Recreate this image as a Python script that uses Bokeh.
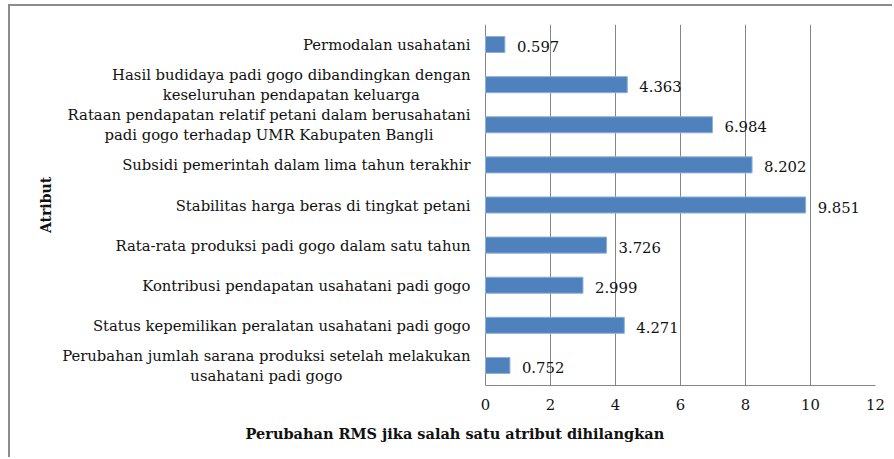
import math
from bokeh.plotting import figure
from bokeh.models import ColumnDataSource, FactorRange, Range1d, Title
from bokeh.core.properties import value
from bokeh.embed import file_html
from bokeh.resources import INLINE

# Data (top to bottom as in the reference)
attributes = [
    "Permodalan usahatani",
    "Hasil budidaya padi gogo dibandingkan dengan\nkeseluruhan pendapatan keluarga",
    "Rataan pendapatan relatif petani dalam berusahatani\npadi gogo terhadap UMR Kabupaten Bangli",
    "Subsidi pemerintah dalam lima tahun terakhir",
    "Stabilitas harga beras di tingkat petani",
    "Rata-rata produksi padi gogo dalam satu tahun",
    "Kontribusi pendapatan usahatani padi gogo",
    "Status kepemilikan peralatan usahatani padi gogo",
    "Perubahan jumlah sarana produksi setelah melakukan\nusahatani padi gogo",
]
rms_change = [0.597, 4.363, 6.984, 8.202, 9.851, 3.726, 2.999, 4.271, 0.752]
x_ticks = [0, 2, 4, 6, 8, 10, 12]
x_title = "Perubahan RMS jika salah satu atribut dihilangkan"
y_title = "Atribut"

FONT = "DejaVu Serif"
FS = "14.8px"
TXT = "#111111"
GRID = "#868686"

src = ColumnDataSource(dict(
    attr=attributes,
    val=rms_change,
    lab=[f"{v:.3f}" for v in rms_change],
))

# the frame also holds the category-label column; the value axis starts at 0
p = figure(
    width=884, height=453,
    y_range=FactorRange(*attributes[::-1]),
    x_range=Range1d(-14.615, 12),
    y_axis_location=None,
    output_backend="svg", toolbar_location=None,
    min_border_left=0, min_border_right=19,
    min_border_top=18, min_border_bottom=74,
)
p.styles = {"margin-left": "8px", "margin-top": "4px",
            "border-left": "2px solid #8c8c8c", "border-top": "2px solid #8c8c8c"}
p.outline_line_color = None
p.background_fill_color = "white"
p.border_fill_color = "white"

p.hbar(y="attr", left=0, right="val", height=0.4, source=src,
       fill_color="#4F81BD", line_color="#8eb0da", line_width=1)
p.text(x="val", y="attr", text="lab", source=src, x_offset=12, y_offset=2,
       text_baseline="middle", text_align="left", text_color=TXT,
       text_font=value(FONT), text_font_size=FS)

# category labels: block right-aligned next to the value axis, lines centred
p.text(x=0, y="attr", text="attr", source=src, x_offset=-15,
       anchor="center_right", text_align="center", text_baseline="middle",
       text_line_height=1.2, text_color=TXT,
       text_font=value(FONT), text_font_size=FS)

# y title
p.text(x=[-13.51], y=[len(attributes) / 2], text=[y_title], angle=math.pi / 2,
       text_align="center", text_baseline="middle", text_color=TXT,
       text_font=value(FONT), text_font_style="bold", text_font_size="14px")

# x axis (only over the value range)
xa = p.xaxis[0]
xa.ticker = x_ticks
xa.bounds = (0, 12)
xa.axis_line_color = GRID
xa.major_tick_line_color = None
xa.major_tick_out = 0
xa.major_tick_in = 0
xa.minor_tick_line_color = None
xa.major_label_standoff = 13
xa.major_label_text_font = FONT
xa.major_label_text_font_size = FS
xa.major_label_text_color = TXT

p.xgrid.grid_line_color = GRID
p.xgrid.ticker = x_ticks
p.ygrid.grid_line_color = None

p.add_layout(Title(text=x_title, align="left", offset=235, standoff=20,
                   text_font=FONT, text_font_style="bold", text_font_size="14.5px",
                   text_color=TXT), "below")

open("out.html", "w").write(file_html(p, INLINE))
